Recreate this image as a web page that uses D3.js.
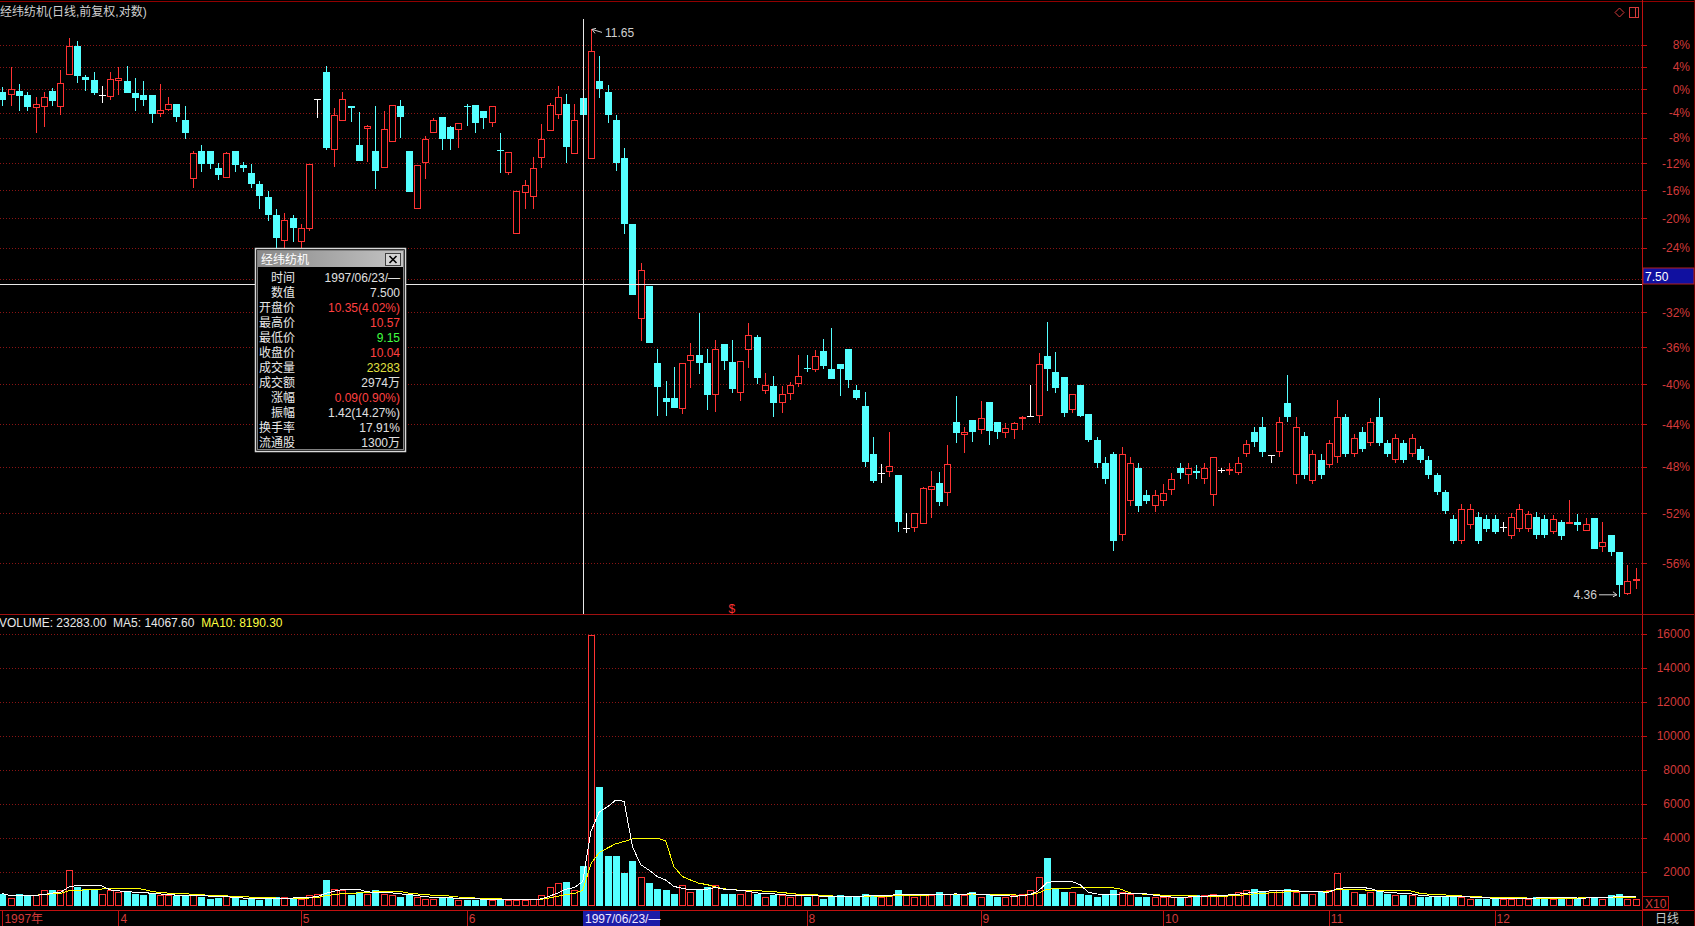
<!DOCTYPE html>
<html><head><meta charset="utf-8">
<script src="https://cdn.jsdelivr.net/npm/d3@7"></script>
<style>
html,body{margin:0;padding:0;background:#000;overflow:hidden}
svg{display:block}
text{font-family:"Liberation Sans","Noto Sans CJK SC",Arial,sans-serif;font-size:12px}
</style></head>
<body><svg id="c" width="1695" height="926"></svg>
<script>
// ---------------- DATA ----------------
const title = "经纬纺机(日线,前复权,对数)";
const basePrice = 10.5;
const open = [10.46,10.39,10.47,10.39,10.17,10.19,10.47,10.19,10.77,11.31,
10.73,10.67,10.39,10.37,10.65,10.66,10.43,10.39,10.39,10.07,
10.13,10.24,9.95,8.99,9.44,9.44,9.17,9.00,9.44,9.21,
9.09,8.91,8.71,8.44,8.08,8.40,8.06,8.24,10.33,10.83,
9.45,9.94,10.20,9.54,9.81,9.44,9.16,9.59,10.20,9.44,
8.53,9.25,9.73,10.01,9.83,9.78,10.21,10.22,10.11,9.91,
9.45,9.08,8.17,8.77,8.72,9.33,9.77,10.05,10.24,9.39,
10.35,9.31,10.66,10.46,9.95,9.32,8.31,7.06,7.47,6.54,
6.15,6.15,6.04,6.56,6.63,6.54,6.18,6.76,6.55,6.21,
6.68,6.84,6.23,6.28,6.10,6.20,6.30,6.48,6.46,6.67,
6.47,6.53,6.70,6.24,6.07,5.58,5.40,5.41,5.38,4.91,
4.91,4.95,5.25,5.31,5.22,5.90,5.77,5.92,5.82,6.11,
5.90,5.79,5.82,5.94,5.96,5.96,6.62,6.44,6.38,6.03,
6.29,5.98,5.72,5.50,5.58,4.85,5.15,5.45,5.20,5.10,
5.15,5.25,5.45,5.38,5.42,5.35,5.20,5.43,5.43,5.40,
5.58,5.80,5.85,5.57,5.60,6.10,5.38,5.76,5.33,5.53,
5.48,5.55,5.95,5.58,5.80,5.69,5.95,5.69,5.53,5.69,
5.58,5.63,5.53,5.38,5.23,4.99,4.80,4.94,5.01,4.99,
4.99,4.92,4.84,4.90,4.90,5.01,4.99,4.88,4.96,4.95,
4.96,4.89,5.00,4.75,4.85,4.71,4.38,4.49];
const high = [10.54,10.91,10.59,10.45,10.36,10.45,10.52,10.86,11.48,11.41,
10.76,10.83,10.56,10.83,10.91,10.93,10.71,10.66,10.39,10.59,
10.37,10.24,10.20,9.43,9.53,9.44,9.25,9.42,9.44,9.26,
9.22,8.96,8.80,8.54,8.48,8.44,8.32,9.23,10.33,10.93,
10.16,10.45,10.20,10.10,9.87,10.20,10.11,10.22,10.30,9.44,
9.21,9.68,9.99,10.01,9.86,9.91,10.23,10.22,10.11,10.20,
9.73,9.42,8.80,8.97,9.34,9.89,10.25,10.56,10.42,10.23,
10.57,11.65,11.12,10.58,10.05,9.49,8.31,7.77,7.47,6.70,
6.34,6.49,6.54,6.77,7.13,6.70,6.80,6.76,6.80,6.56,
7.01,6.86,6.43,6.39,6.28,6.33,6.63,6.63,6.69,6.81,
6.94,6.53,6.70,6.29,6.22,5.75,5.49,5.80,5.38,5.04,
5.04,5.27,5.42,5.41,5.67,6.17,5.85,5.92,6.12,6.11,
5.90,5.89,5.90,5.96,6.29,6.65,7.02,6.66,6.38,6.20,
6.29,5.98,5.75,5.55,5.60,5.65,5.55,5.50,5.25,5.25,
5.30,5.40,5.50,5.50,5.48,5.50,5.55,5.45,5.50,5.55,
5.72,5.85,5.95,5.57,5.95,6.40,5.95,5.80,5.62,5.58,
5.72,6.13,5.98,5.78,5.85,5.94,6.15,5.72,5.78,5.72,
5.78,5.66,5.56,5.40,5.25,5.02,5.12,5.12,5.05,5.02,
5.02,4.96,5.04,5.12,5.06,5.05,5.02,5.02,4.98,5.16,
5.03,5.00,5.00,4.96,4.85,4.71,4.61,4.58];
const low = [10.21,10.21,10.12,10.12,9.74,9.84,10.21,10.05,10.77,10.61,
10.47,10.39,10.26,10.30,10.40,10.43,10.12,10.21,9.90,10.01,
10.11,9.92,9.64,8.85,9.10,9.15,8.97,9.00,9.10,9.10,
8.85,8.54,8.36,7.97,7.90,8.06,7.90,8.21,10.00,9.45,
9.18,9.94,9.92,9.28,9.26,8.83,9.16,9.59,9.65,8.79,
8.53,8.99,9.73,9.46,9.46,9.48,9.86,9.74,9.80,9.84,
9.08,9.06,8.17,8.54,8.54,9.16,9.77,9.97,9.25,9.39,
9.15,9.31,10.34,9.91,9.11,8.18,7.36,6.79,6.77,5.96,
5.96,6.05,5.98,6.26,6.41,6.03,6.01,6.46,6.21,6.12,
6.48,6.30,6.20,5.95,5.99,6.13,6.27,6.44,6.44,6.47,
6.36,6.17,6.26,6.13,5.46,5.31,5.31,5.37,4.88,4.87,
4.88,4.95,5.00,5.10,5.10,5.69,5.59,5.70,5.78,5.67,
5.73,5.74,5.73,5.82,5.95,5.89,6.23,6.21,5.95,5.99,
5.95,5.70,5.45,5.30,4.72,4.80,5.10,5.05,5.12,5.05,
5.10,5.20,5.35,5.30,5.35,5.30,5.10,5.40,5.38,5.38,
5.55,5.65,5.55,5.50,5.55,5.90,5.30,5.35,5.30,5.35,
5.45,5.50,5.55,5.55,5.60,5.66,5.66,5.55,5.50,5.50,
5.55,5.50,5.35,5.20,5.03,4.78,4.78,4.90,4.78,4.88,
4.86,4.88,4.82,4.88,4.88,4.82,4.83,4.86,4.81,4.95,
4.89,4.89,4.74,4.71,4.68,4.36,4.37,4.42];
const close = [10.30,10.50,10.38,10.19,10.24,10.37,10.29,10.61,11.31,10.75,
10.68,10.43,10.39,10.69,10.71,10.44,10.35,10.31,10.07,10.13,
10.24,10.01,9.73,9.40,9.23,9.23,9.05,9.40,9.21,9.16,
8.91,8.73,8.44,8.12,8.38,8.26,8.26,9.23,10.33,9.48,
10.04,10.33,10.16,9.28,9.85,9.11,9.81,10.22,10.01,8.79,
9.21,9.63,9.95,9.64,9.64,9.91,10.20,9.91,9.99,10.20,
9.44,9.42,8.80,8.89,9.17,9.63,10.22,10.37,9.50,9.95,
10.04,11.23,10.51,10.05,9.25,8.32,7.36,7.68,6.77,6.27,
6.11,6.05,6.54,6.63,6.54,6.18,6.70,6.56,6.25,6.56,
6.86,6.37,6.29,6.10,6.19,6.29,6.39,6.47,6.62,6.50,
6.36,6.47,6.35,6.15,5.51,5.33,5.40,5.47,4.96,4.91,
5.04,5.26,5.28,5.14,5.49,5.79,5.80,5.80,5.94,5.81,
5.80,5.84,5.89,5.95,5.96,6.53,6.47,6.26,5.99,6.19,
5.96,5.72,5.50,5.35,4.80,5.58,5.50,5.10,5.15,5.20,
5.22,5.35,5.40,5.45,5.40,5.45,5.55,5.43,5.44,5.50,
5.68,5.70,5.60,5.57,5.90,5.95,5.85,5.38,5.58,5.38,
5.69,5.95,5.58,5.74,5.63,5.90,5.69,5.58,5.74,5.53,
5.74,5.53,5.38,5.23,5.06,4.80,5.08,5.08,4.80,4.90,
4.88,4.92,5.01,5.08,5.03,4.85,4.85,4.99,4.84,4.96,
4.94,4.95,4.74,4.79,4.71,4.45,4.48,4.50];
const volume = [7000,4500,6500,6000,6000,9000,9000,9000,21000,11000,
10000,9000,7000,9000,8000,8000,7000,6000,7000,6000,
6000,5500,6000,7000,5000,4000,4500,5500,4500,3500,
4000,3500,4500,5000,5000,4000,4000,6000,7000,15000,
10000,9000,6000,8000,7000,9000,7000,6000,5000,6000,
5000,4000,4000,5000,4500,3500,3500,3500,3500,3000,
4000,3000,3500,3000,4000,6000,11000,13000,14000,9000,
23283,159000,70000,29000,29000,19000,26000,17000,13000,10000,
9000,7000,12000,8000,10000,11000,12000,7000,7000,7000,
9000,7000,5000,6000,6000,5000,7000,5000,6000,4000,
5000,6000,5000,5000,7000,6000,5000,6000,9000,6000,
5000,7000,6000,8000,7000,6000,6000,8000,5000,6000,
5000,5000,6000,7000,9000,17000,28000,10000,8000,8000,
7000,6000,5000,6000,9000,8000,7000,5000,5000,5000,
5000,5000,5000,5000,6000,6000,7000,6000,6000,8000,
9000,10000,8000,8000,9000,10000,8000,7000,7000,8000,
9000,19000,9000,8000,7000,8000,9000,7000,6000,6000,
6000,5000,5000,5000,5000,6000,5000,4000,4000,4000,
4000,4000,4000,5000,4000,5000,5000,4000,4000,5000,
4000,5000,5000,4000,6000,7000,4000,4000];
const pctTicks = [8,4,0,-4,-8,-12,-16,-20,-24,-28,-32,-36,-40,-44,-48,-52,-56];
const pctHidden = [-28];           // label covered by the cursor price box
const volTicks = [2000,4000,6000,8000,10000,12000,14000,16000];
const monthIdx = [0,14,36,56,97,118,140,160,180];
const monthLabels = ["1997年","4","5","6","8","9","10","11","12"];
const cursorIdx = 70, cursorPrice = 7.50, cursorDate = "1997/06/23/—";
const volLegend = [["VOLUME: 23283.00  MA5: 14067.60  ","#e8e8e8"],["MA10: 8190.30","#ffff40"]];
const tipLabels = ["时间","数值","开盘价","最高价","最低价","收盘价","成交量","成交额","涨幅","振幅","换手率","流通股"];
const tipValues = ["1997/06/23/—","7.500","10.35(4.02%)","10.57","9.15","10.04","23283","2974万","0.09(0.90%)","1.42(14.27%)","17.91%","1300万"];
const tipColors = ["#e0e0e0","#e0e0e0","#ff4040","#ff4040","#40ff40","#ff4040","#e0e040","#e0e0e0","#ff4040","#e0e0e0","#e0e0e0","#e0e0e0"];

// ---------------- SETUP ----------------
const RED="#ff3232", CYAN="#54ffff", AX="#c01010", GRID="#8a1414", LBL="#d23a3a";
const svg=d3.select("#c");
const N=open.length, step=8.29, axisX=1642;
const x=d3.scaleBand().domain(d3.range(N)).range([-1.75,-1.75+N*step]);
const cx=i=>x(i)+x.bandwidth()/2;
const px=i=>Math.round(cx(i))+0.5;
const y=d3.scaleLog().domain([4.232,12.006]).range([614,12]);
const yv=d3.scaleLinear().domain([0,17000]).range([905.5,616.5]);
const defs=svg.append("defs");
defs.append("clipPath").attr("id","cp").append("rect").attr("x",0).attr("y",12).attr("width",axisX).attr("height",602);
defs.append("clipPath").attr("id","cv").append("rect").attr("x",0).attr("y",630).attr("width",axisX).attr("height",277);

// grid lines
const grid=svg.append("g").attr("stroke",GRID).attr("stroke-dasharray","1,2").attr("shape-rendering","crispEdges");
pctTicks.forEach(p=>{const yy=Math.round(y(basePrice*(1+p/100)))+0.5;
  grid.append("line").attr("x1",0).attr("x2",axisX).attr("y1",yy).attr("y2",yy);});
volTicks.forEach(v=>{const yy=Math.round(yv(v))+0.5;
  grid.append("line").attr("x1",0).attr("x2",axisX).attr("y1",yy).attr("y2",yy);});

// frame
const fr=svg.append("g").attr("stroke",AX).attr("shape-rendering","crispEdges").attr("fill","none");
fr.append("line").attr("x1",0).attr("x2",1695).attr("y1",1.5).attr("y2",1.5).attr("stroke","#900000");
fr.append("line").attr("x1",axisX+0.5).attr("x2",axisX+0.5).attr("y1",0).attr("y2",926);
fr.append("line").attr("x1",0).attr("x2",1695).attr("y1",614.5).attr("y2",614.5).attr("stroke","#a01010");
fr.append("line").attr("x1",0).attr("x2",1695).attr("y1",910.5).attr("y2",910.5);
fr.append("line").attr("x1",1694.5).attr("x2",1694.5).attr("y1",0).attr("y2",926).attr("stroke","#700000");

// title
svg.append("text").attr("x",0).attr("y",16).attr("fill","#d0d0d0").text(title);
// top-right icons
svg.append("path").attr("d","M1619.5,8 L1624,12.5 L1619.5,17 L1615,12.5 Z").attr("fill","none").attr("stroke",LBL);
svg.append("rect").attr("x",1629.5).attr("y",7.5).attr("width",9).attr("height",10).attr("fill","none").attr("stroke",LBL);
svg.append("line").attr("x1",1635.5).attr("x2",1635.5).attr("y1",8).attr("y2",17).attr("stroke",LBL);

// price axis
const pa=svg.append("g");
pctTicks.forEach(p=>{const yy=y(basePrice*(1+p/100));
  pa.append("line").attr("x1",axisX).attr("x2",axisX+5).attr("y1",Math.round(yy)+0.5).attr("y2",Math.round(yy)+0.5).attr("stroke",AX);
  if(!pctHidden.includes(p)) pa.append("text").attr("x",1690).attr("y",yy+4.5).attr("text-anchor","end").attr("fill",LBL).text(p+"%");});
// volume axis
volTicks.forEach(v=>{const yy=yv(v);
  pa.append("line").attr("x1",axisX).attr("x2",axisX+5).attr("y1",Math.round(yy)+0.5).attr("y2",Math.round(yy)+0.5).attr("stroke",AX);
  pa.append("text").attr("x",1690).attr("y",yy+4.5).attr("text-anchor","end").attr("fill",LBL).text(v);});

// candles
const cg=svg.append("g").attr("clip-path","url(#cp)").attr("shape-rendering","crispEdges");
d3.range(N).forEach(i=>{
  const o=open[i],c=close[i],h=high[i],l=low[i];
  const X=px(i);
  const col=c>o?RED:(c<o?CYAN:"#ffffff");
  const yt=Math.round(y(Math.max(o,c))), yb=Math.round(y(Math.min(o,c)));
  if(c>o){
    cg.append("line").attr("x1",X).attr("x2",X).attr("y1",y(h)).attr("y2",yt).attr("stroke",col);
    cg.append("line").attr("x1",X).attr("x2",X).attr("y1",yb).attr("y2",y(l)).attr("stroke",col);
    cg.append("rect").attr("x",X-3).attr("y",yt+0.5).attr("width",6).attr("height",Math.max(1,yb-yt-1)).attr("fill","#000").attr("stroke",col);
  } else if(c<o){
    cg.append("line").attr("x1",X).attr("x2",X).attr("y1",y(h)).attr("y2",y(l)).attr("stroke",col);
    cg.append("rect").attr("x",X-3.5).attr("y",yt).attr("width",7).attr("height",Math.max(1,yb-yt)).attr("fill",col);
  } else {
    cg.append("line").attr("x1",X).attr("x2",X).attr("y1",y(h)).attr("y2",y(l)).attr("stroke",col);
    cg.append("line").attr("x1",X-3.5).attr("x2",X+3.5).attr("y1",yt+0.5).attr("y2",yt+0.5).attr("stroke",col);
  }
});

// volume bars
const vg=svg.append("g").attr("clip-path","url(#cv)").attr("shape-rendering","crispEdges");
d3.range(N).forEach(i=>{
  const v=volume[i]/10, X=px(i), yt=Math.round(yv(v)), yb=Math.round(yv(0));
  if(close[i]>=open[i]) vg.append("rect").attr("x",X-3).attr("y",yt+0.5).attr("width",6).attr("height",Math.max(1,yb-yt-1)).attr("fill","#000").attr("stroke",RED);
  else vg.append("rect").attr("x",X-3.5).attr("y",yt).attr("width",7).attr("height",Math.max(1,yb-yt)).attr("fill",CYAN);
});
// MA lines
function ma(n){return d3.range(N).map(i=>d3.mean(volume.slice(Math.max(0,i-n+1),i+1))/10);}
const line=d3.line().x((d,i)=>cx(i)).y(d=>yv(d));
vg.append("path").attr("d",line(ma(10))).attr("fill","none").attr("stroke","#ffff00");
vg.append("path").attr("d",line(ma(5))).attr("fill","none").attr("stroke","#ffffff");

// volume legend
const vl=svg.append("text").attr("x",-1).attr("y",627).attr("xml:space","preserve");
volLegend.forEach(d=>vl.append("tspan").attr("fill",d[1]).text(d[0]));

// X10 box
svg.append("rect").attr("x",axisX+0.5).attr("y",896.5).attr("width",26).attr("height",13).attr("fill","none").attr("stroke",AX);
svg.append("text").attr("x",axisX+3).attr("y",908).attr("fill",LBL).text("X10");
svg.append("text").attr("x",1655).attr("y",923).attr("fill","#c8c8c8").text("日线");

// date axis
monthIdx.forEach((m,k)=>{
  svg.append("line").attr("x1",px(m)).attr("x2",px(m)).attr("y1",911).attr("y2",926).attr("stroke",AX);
  svg.append("text").attr("x",cx(m)+2).attr("y",923).attr("fill",LBL).text(monthLabels[k]);
});
// cursor date box
svg.append("rect").attr("x",Math.round(cx(cursorIdx))).attr("y",911).attr("width",77).attr("height",15).attr("fill","#1c1ca8");
svg.append("text").attr("x",Math.round(cx(cursorIdx))+2).attr("y",923).attr("fill","#f0e8ff").text(cursorDate);

// crosshair
const ch=svg.append("g").attr("stroke","#e8e8e8").attr("shape-rendering","crispEdges");
ch.append("line").attr("x1",px(cursorIdx)).attr("x2",px(cursorIdx)).attr("y1",19).attr("y2",614);
ch.append("line").attr("x1",0).attr("x2",axisX).attr("y1",Math.round(y(cursorPrice))+0.5).attr("y2",Math.round(y(cursorPrice))+0.5);
svg.append("rect").attr("x",axisX+1).attr("y",Math.round(y(cursorPrice))-16).attr("width",51).attr("height",16).attr("fill","#1010a0").attr("stroke","#b02020");
svg.append("text").attr("x",axisX+3).attr("y",Math.round(y(cursorPrice))-3.5).attr("fill","#ffffff").text(cursorPrice.toFixed(2));

// max / min markers
const iMax=d3.maxIndex(high), iMin=d3.minIndex(low);
const mx=cx(iMax), my=y(high[iMax]);
svg.append("path").attr("d",`M${mx+1},${my} L${mx+11},${my+3} M${mx+1},${my} l3,4 M${mx+1},${my} l4,-1`).attr("stroke","#d0d0d0").attr("fill","none");
svg.append("text").attr("x",mx+14).attr("y",my+8).attr("fill","#d0d0d0").text(high[iMax].toFixed(2));
const nx=cx(iMin)-2, ny=y(low[iMin]);
svg.append("path").attr("d",`M${nx-18},${ny-2} L${nx},${ny-2} M${nx},${ny-2} l-4,-3 M${nx},${ny-2} l-4,2`).attr("stroke","#d0d0d0").attr("fill","none");
svg.append("text").attr("x",nx-20).attr("y",ny+2).attr("text-anchor","end").attr("fill","#d0d0d0").text(low[iMin].toFixed(2));
// $ marker
svg.append("text").attr("x",cx(88)).attr("y",613).attr("text-anchor","middle").attr("fill",RED).attr("font-size","10px").text("$");

// tooltip box
const tb=svg.append("g").attr("transform","translate(255,248)");
tb.append("rect").attr("x",0.5).attr("y",0.5).attr("width",150).attr("height",203).attr("fill","#000").attr("stroke","#d8d8d8").attr("stroke-width",1.5);
tb.append("rect").attr("x",2.5).attr("y",2.5).attr("width",146).attr("height",199).attr("fill","none").attr("stroke","#808080");
const gr=defs.append("linearGradient").attr("id","tg");
gr.append("stop").attr("offset","0").attr("stop-color","#8a8a8a");
gr.append("stop").attr("offset","1").attr("stop-color","#c4c4c4");
tb.append("rect").attr("x",3).attr("y",3).attr("width",145).attr("height",16).attr("fill","url(#tg)");
tb.append("text").attr("x",6).attr("y",15.5).attr("fill","#ffffff").attr("font-size","13px").text("经纬纺机");
tb.append("rect").attr("x",130.5).attr("y",5.5).attr("width",15).attr("height",12).attr("fill","#d4d4d4").attr("stroke","#404040");
tb.append("path").attr("d","M134.5,8 L141.5,15 M141.5,8 L134.5,15").attr("stroke","#000").attr("stroke-width",1.6);
tipLabels.forEach((t,k)=>{
  const yy=34+k*15;
  tb.append("text").attr("x",40).attr("y",yy).attr("text-anchor","end").attr("fill","#e8e8e8").attr("font-size","13px").text(t);
  tb.append("text").attr("x",145).attr("y",yy).attr("text-anchor","end").attr("fill",tipColors[k]).text(tipValues[k]);
});
</script></body></html>
